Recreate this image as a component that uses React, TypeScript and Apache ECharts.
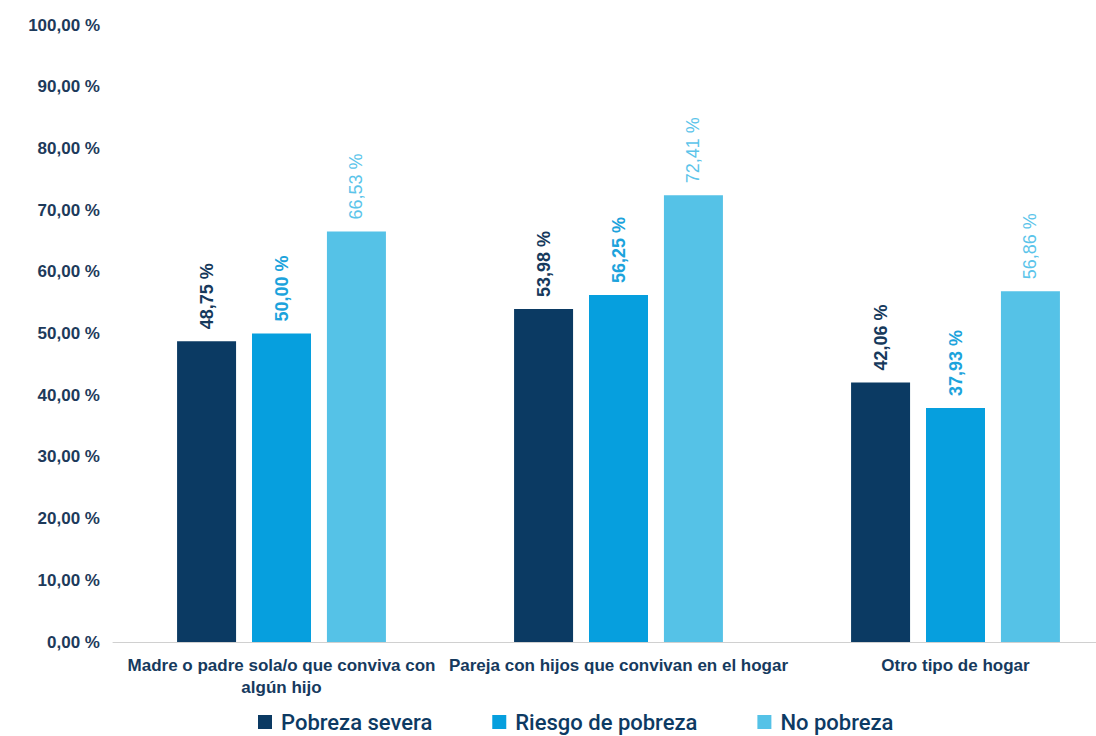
import React, { useEffect, useRef } from "react";
import * as echarts from "echarts";

const categories = [
  "Madre o padre sola/o que conviva con\nalgún hijo",
  "Pareja con hijos que convivan en el hogar",
  "Otro tipo de hogar",
];
const seriesNames = ["Pobreza severa", "Riesgo de pobreza", "No pobreza"];
const pobrezaSevera = [48.75, 53.98, 42.06];
const riesgoPobreza = [50.0, 56.25, 37.93];
const noPobreza = [66.53, 72.41, 56.86];
const yTicks = [0, 10, 20, 30, 40, 50, 60, 70, 80, 90, 100];

const barColors = ["#0b3a63", "#069fde", "#55c2e7"];
const labelColors = ["#16395c", "#1ca3dc", "#5bc4ea"];
const labelWeights = ["bold", "bold", "normal"];

const fmt = (v: number) => v.toFixed(2).replace(".", ",") + " %";

export default function App() {
  const ref = useRef<HTMLDivElement>(null);
  useEffect(() => {
    if (!ref.current) return;
    const chart = echarts.init(ref.current, null, { renderer: "svg" });
    const data = [pobrezaSevera, riesgoPobreza, noPobreza];
    chart.setOption({
      animation: false,
      backgroundColor: "#ffffff",
      grid: {
        left: 113,
        top: 25,
        width: 1011,
        bottom: 94,
        containLabel: false,
        outerBoundsMode: "none",
      },
      legend: {
        left: 253,
        top: 706,
        itemWidth: 14,
        itemHeight: 14,
        itemGap: 60,
        icon: "rect",
        textStyle: {
          fontFamily: "Roboto, Liberation Sans, Arial",
          fontSize: 22,
          lineHeight: 22,
          fontWeight: 500,
          color: "#0d3a63",
          padding: [0, 0, 0, 4],
        },
        data: seriesNames,
      },
      xAxis: {
        type: "category",
        data: categories,
        axisLine: { show: true, lineStyle: { color: "#d0d0d0", width: 1 } },
        axisTick: { show: false },
        axisLabel: {
          interval: 0,
          margin: 12,
          fontFamily: "Liberation Sans, Arial",
          fontSize: 17,
          fontWeight: "bold",
          color: "#163a5e",
          lineHeight: 22,
        },
      },
      yAxis: {
        type: "value",
        min: 0,
        max: 100,
        interval: 10,
        splitLine: { show: false },
        axisLine: { show: false },
        axisTick: { show: false },
        axisLabel: {
          margin: 13,
          fontFamily: "Liberation Sans, Arial",
          fontSize: 17,
          fontWeight: "bold",
          color: "#1d3a5b",
          formatter: (v: number) => (yTicks.includes(v) ? fmt(v) : ""),
        },
      },
      series: seriesNames.map((name, i) => ({
        name,
        type: "bar",
        data: data[i],
        barWidth: 59,
        barGap: "27%",
        itemStyle: { color: barColors[i] },
        label: {
          show: true,
          position: "top",
          rotate: 90,
          align: "left",
          verticalAlign: "middle",
          distance: 12,
          fontFamily: "Liberation Sans, Arial",
          fontSize: 18,
          fontWeight: labelWeights[i],
          color: labelColors[i],
          formatter: (p: any) => fmt(p.value),
        },
      })),
    });
    return () => chart.dispose();
  }, []);
  return (
    <div
      ref={ref}
      style={{ position: "fixed", left: 0, top: 0, width: 1096, height: 736 }}
    />
  );
}
